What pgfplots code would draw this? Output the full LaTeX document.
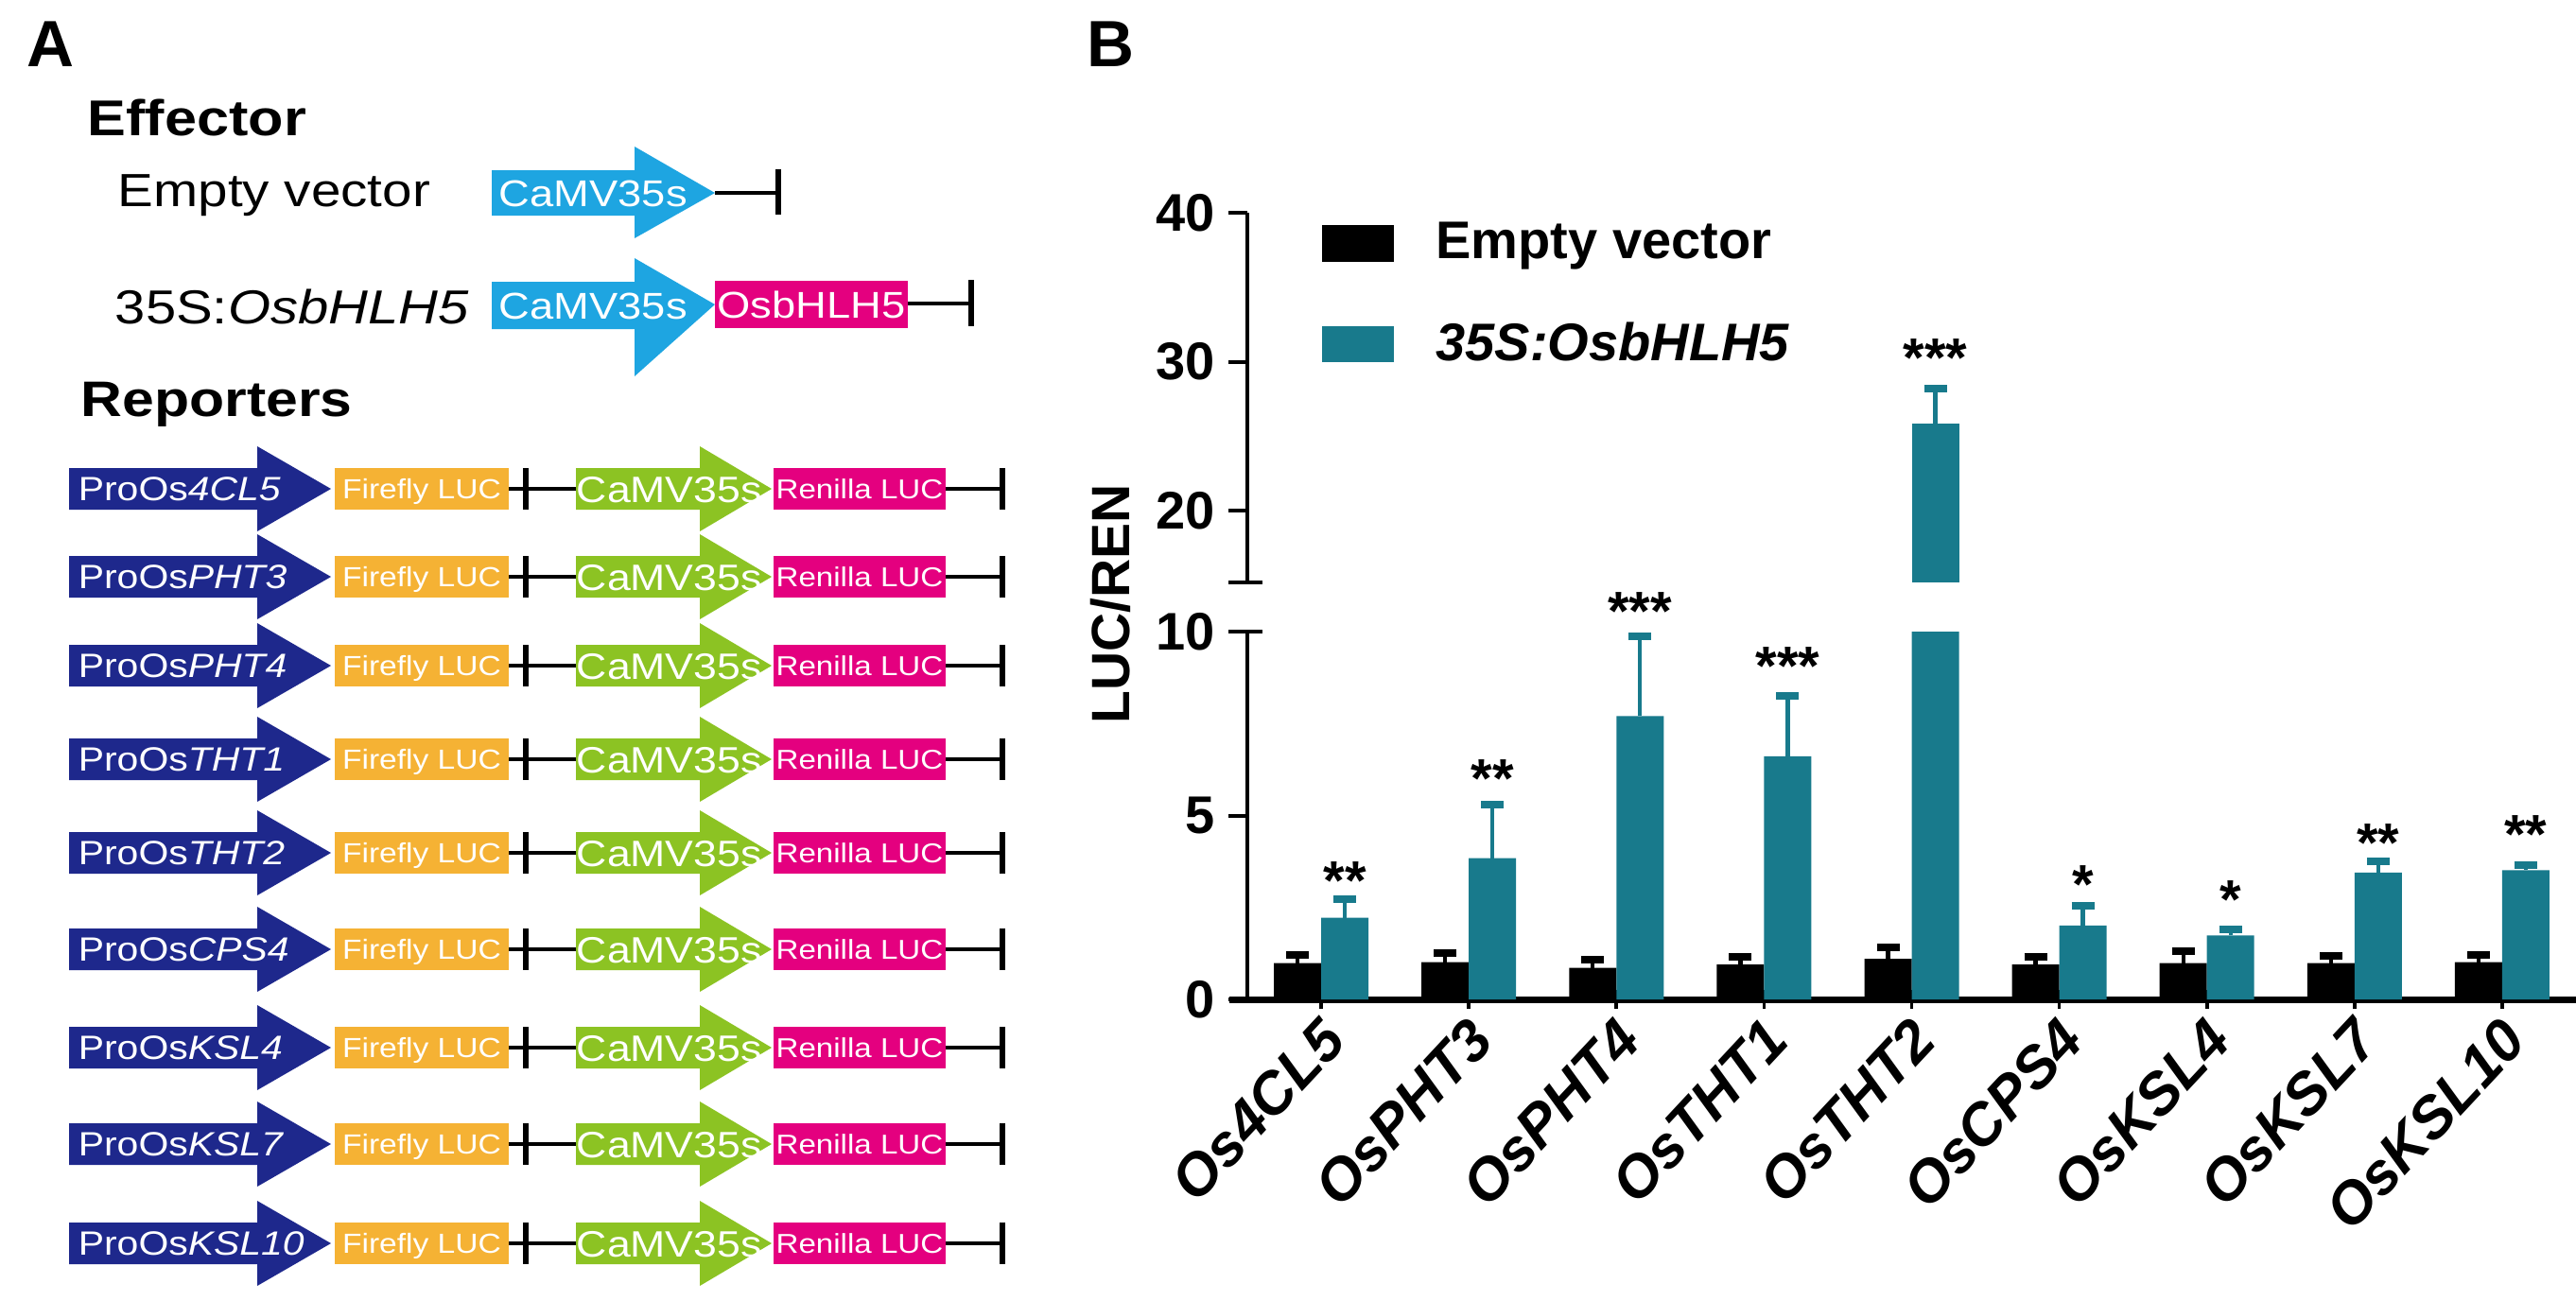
\documentclass[border=0pt]{standalone}
\usepackage{pgfplots}
\usepackage{pgfplotstable}
\pgfplotsset{compat=1.18}
\usepackage{fontspec}
\setmainfont{Liberation Sans}[FakeStretch=1.15]
\newfontfamily\arial{Liberation Sans}
\newcommand\fs[1]{\fontsize{#1}{#1}\selectfont}

\definecolor{tealbar}{RGB}{24,122,140}
\definecolor{cyanpro}{RGB}{30,165,225}
\definecolor{pinkbox}{RGB}{228,0,127}
\definecolor{navypro}{RGB}{30,40,140}
\definecolor{orangebox}{RGB}{245,178,52}
\definecolor{greenpro}{RGB}{140,195,35}

% LUC/REN, mean and upper error
\pgfplotstableread{
x y e
1 0.99 0.22
2 1.01 0.26
3 0.86 0.23
4 0.95 0.21
5 1.10 0.32
6 0.95 0.21
7 0.99 0.32
8 0.99 0.20
9 1.01 0.21
}\emptyvec
\pgfplotstableread{
x y e
1 2.22 0.51
2 3.84 1.46
3 7.70 2.17
4 6.61 1.64
5 25.84 2.36
6 2.01 0.53
7 1.74 0.17
8 3.45 0.30
9 3.51 0.15
}\ohlh

\pgfplotsset{
  luc/.style={
    scale only axis, width=351.25pt, xmin=0.5, xmax=9.5,
    axis y line=left,
    y axis line style={-, line width=1pt},
    tick align=outside, major tick length=5pt,
    ytick style={line width=1pt, black},
    yticklabel style={font=\arial\bfseries\fs{14}},
    /pgf/number format/assume math mode=true,
    ybar, bar width=12.5pt, clip mode=individual,
    error bars/y dir=plus, error bars/y explicit,
  },
  blackbars/.style={fill=black, draw=none, bar shift=-6.25pt,
    error bars/error bar style={black, line width=1.1pt},
    error bars/error mark options={rotate=90, black, line width=2pt, mark size=3pt}},
  tealbars/.style={fill=tealbar, draw=none, bar shift=6.25pt,
    error bars/error bar style={tealbar, line width=1.1pt},
    error bars/error mark options={rotate=90, tealbar, line width=2pt, mark size=3pt}},
}
\tikzset{stars/.style={anchor=north, inner sep=0pt, font=\arial\bfseries\fs{14.5}}}

\begin{document}
\begin{tikzpicture}
\path[use as bounding box] (0,0) rectangle (681pt,-343.75pt);

\begin{scope}[x=0.25pt, y=-0.25pt, every node/.style={inner sep=0pt}]
\node[anchor=base west, font=\arial\bfseries\fs{17.3}] at (28,70) {A};
\node[anchor=base west, font=\arial\bfseries\fs{17.3}] at (1149,70) {B};
\node[anchor=base west, font=\bfseries\fs{13.3}] at (92,143) {Effector};
\node[anchor=base west, font=\fs{12.3}] at (124,218) {Empty vector};
\node[anchor=base west, font=\fs{12.6}] at (121,342) {35S:\textit{OsbHLH5}};
\node[anchor=base west, font=\bfseries\fs{13.2}] at (85,440) {Reporters};

% effectors
\fill[cyanpro] (520,180) -- (671,180) -- (671,155) -- (756,204) -- (671,252) -- (671,228) -- (520,228) -- cycle;
\node[anchor=base west, text=white, font=\fs{9.85}] at (527,218) {CaMV35s};
\draw[line width=1pt] (756,204) -- (823,204);
\draw[line width=1.4pt] (823,179) -- (823,227);

\fill[cyanpro] (520,298) -- (671,298) -- (671,273) -- (756,322) -- (671,398) -- (671,348) -- (520,348) -- cycle;
\node[anchor=base west, text=white, font=\fs{9.85}] at (527,337) {CaMV35s};
\fill[pinkbox] (756,297) rectangle (960,347);
\node[anchor=base, text=white, font=\fs{9.85}] at (858,336) {OsbHLH5};
\draw[line width=1pt] (960,321) -- (1027,321);
\draw[line width=1.4pt] (1027,296) -- (1027,345);

% reporters
\foreach \yy/\g in {517/4CL5,610/PHT3,704/PHT4,803/THT1,902/THT2,1004/CPS4,1108/KSL4,1210/KSL7,1315/KSL10}{
  \fill[navypro] (73,{\yy-22}) -- (272,{\yy-22}) -- (272,{\yy-45}) -- (350,\yy) -- (272,{\yy+45}) -- (272,{\yy+22}) -- (73,{\yy+22}) -- cycle;
  \node[anchor=base west, text=white, font=\fs{8.9}] at (82,{\yy+12.5}) {ProOs\textit{\g}};
  \fill[orangebox] (354,{\yy-22}) rectangle (538,{\yy+22});
  \node[anchor=base, text=white, font=\fs{7.3}] at (446,{\yy+10.3}) {Firefly LUC};
  \draw[line width=1pt] (538,\yy) -- (609,\yy);
  \draw[line width=1.4pt] (556,{\yy-22}) -- (556,{\yy+22});
  \fill[greenpro] (609,{\yy-22}) -- (740,{\yy-22}) -- (740,{\yy-45}) -- (816,\yy) -- (740,{\yy+45}) -- (740,{\yy+22}) -- (609,{\yy+22}) -- cycle;
  \node[anchor=base west, text=white, font=\fs{9.7}] at (609,{\yy+14}) {CaMV35s};
  \fill[pinkbox] (818,{\yy-22}) rectangle (1000,{\yy+22});
  \node[anchor=base, text=white, font=\fs{7.2}] at (909,{\yy+10.2}) {Renilla LUC};
  \draw[line width=1pt] (1000,\yy) -- (1060,\yy);
  \draw[line width=1.4pt] (1060,{\yy-22}) -- (1060,{\yy+22});
}

\node[rotate=90, font=\arial\bfseries\fs{14.25}] at (1174,639) {LUC/REN};
\end{scope}

% upper segment of the broken axis
\begin{axis}[luc, at={(329.75pt,-154pt)}, anchor=south west,
  height=97.75pt, ymin=15.2, ymax=40, ytick={20,30,40},
  axis x line=none,
  legend style={at={(axis description cs:0.0562,0.974)}, anchor=north west,
    draw=none, fill=none, inner sep=0pt, outer sep=0pt, row sep=15.2pt,
    font=\arial\bfseries\fs{14}, nodes={inner sep=0pt}},
  legend cell align=left]
\addplot[blackbars, forget plot, restrict y to domain=15:100] table[x=x, y=y, y error=e] {\emptyvec};
\addplot[tealbars, forget plot, restrict y to domain=15:100] table[x=x, y=y, y error=e] {\ohlh};
\addlegendimage{legend image code/.code={\fill[black] (0pt,-4.625pt) rectangle (18.5pt,4.625pt); \path (29.75pt,0pt);}}
\addlegendentry{Empty vector}
\addlegendimage{legend image code/.code={\fill[tealbar] (0pt,-4.625pt) rectangle (18.5pt,4.625pt); \path (29.75pt,0pt);}}
\addlegendentry{\textit{35S:OsbHLH5}}
\node[stars] at (axis cs:5.16,31.6) {***};
\draw[line width=1pt] ([xshift=-5pt]rel axis cs:0,0) -- ++(9pt,0pt);
\end{axis}

% lower segment
\begin{axis}[luc, at={(329.75pt,-264.25pt)}, anchor=south west,
  height=97.25pt, ymin=0, ymax=10, ytick={0,5,10},
  axis x line=bottom, axis line style={-},
  x axis line style={-, line width=1.75pt},
  y axis line style={-, line width=1pt},
  xtick={1,...,9},
  xticklabels={Os4CL5,OsPHT3,OsPHT4,OsTHT1,OsTHT2,OsCPS4,OsKSL4,OsKSL7,OsKSL10},
  xtick style={line width=0.9pt, black},
  xticklabel style={font=\arial\bfseries\itshape\fs{15.5}, rotate=47, anchor=east,
    inner sep=0pt, yshift=-6pt, xshift=-1.5pt}]
\addplot[blackbars] table[x=x, y=y, y error=e] {\emptyvec};
\addplot[tealbars] table[x=x, y=y, y error=e] {\ohlh};
\node[stars] at (axis cs:1.16,3.77) {**};
\node[stars] at (axis cs:2.16,6.53) {**};
\node[stars] at (axis cs:3.16,11.08) {***};
\node[stars] at (axis cs:4.16,9.60) {***};
\node[stars] at (axis cs:6.16,3.66) {*};
\node[stars] at (axis cs:7.16,3.25) {*};
\node[stars] at (axis cs:8.16,4.80) {**};
\node[stars] at (axis cs:9.16,5.02) {**};
\draw[line width=1pt] (rel axis cs:0,1) -- ++(4pt,0pt);
\draw[line width=1.75pt] (rel axis cs:0,0) -- ++(-4.75pt,0pt);
\end{axis}
\end{tikzpicture}
\end{document}
